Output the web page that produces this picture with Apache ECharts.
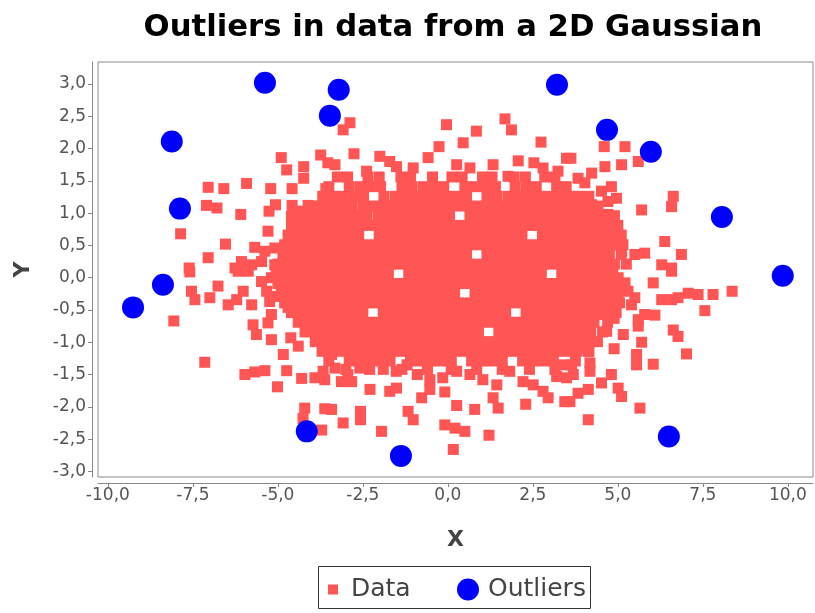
<!DOCTYPE html>
<html><head><meta charset="utf-8">
<script src="https://cdn.jsdelivr.net/npm/echarts@6/dist/echarts.min.js"></script>
<style>html,body{margin:0;padding:0;background:#fff}#c{width:815px;height:613px}</style>
</head><body><div id="c"></div>
<script>
const chartTitle = 'Outliers in data from a 2D Gaussian';
const xTicks = [-10, -7.5, -5, -2.5, 0, 2.5, 5, 7.5, 10];
const yTicks = [-3, -2.5, -2, -1.5, -1, -0.5, 0, 0.5, 1, 1.5, 2, 2.5, 3];

const outliers = [
  [-5.38, 3.02], [-3.21, 2.91], [-3.47, 2.51], [3.21, 2.99], [-8.12, 2.11],
  [4.68, 2.29], [5.97, 1.95], [-7.88, 1.07], [8.06, 0.94], [-8.38, -0.11],
  [9.85, 0.03], [-9.26, -0.46], [-4.15, -2.38], [-1.38, -2.76], [6.5, -2.46]
];

const dataTop = [
  [-2.88,2.40],[-3.08,2.29],[-0.04,2.37],[1.68,2.46],[1.87,2.29],[0.84,2.27],[0.45,2.09],[-0.26,2.03],
  [2.74,2.10],[-0.58,1.86],[-2.76,1.92],[2.07,1.81],[2.53,1.78],[2.80,1.70],[3.24,1.65],[3.49,1.85],
  [-3.32,1.75],[-1.02,1.70],[1.77,1.57],[-2.0,1.88],[-1.71,1.80],[-1.51,1.72],[-2.39,1.65],[0.26,1.75],
  [0.65,1.70],[1.33,1.75]
];
const dataLeftTop = [
  [-4.90,1.86],[-4.74,1.67],[-4.24,1.72],[-4.24,1.54],[-3.74,1.90],[-3.53,1.78],[-7.05,1.40],[-6.59,1.38],
  [-5.92,1.46],[-5.21,1.38],[-4.58,1.38],[-3.59,1.38],[-7.10,1.12],[-6.79,1.08],[-6.09,0.98],[-5.26,1.03],
  [-5.07,1.13],[-4.58,1.12],[-4.40,1.03],[-4.11,1.12],[-3.81,1.08],[-3.57,1.12],[-7.86,0.68],[-6.54,0.52],
  [-7.05,0.31],[-5.29,0.72],[-5.68,0.47],[-5.38,0.41],[-5.09,0.46],[-4.5,0.72],[-4.01,0.82],[-3.62,0.9],
  [-4.3,0.56],[-3.91,0.61],[-3.52,0.67],[-4.40,0.36],[-4.01,0.36],[-3.52,0.41],[-6.07,0.25],[-5.77,0.20],
  [-6.26,0.15],[-7.61,0.15],[-5.48,0.25],[-5.09,0.2],[-4.7,0.15],[-4.6,0.95],[-4.3,0.9],[-4.0,0.98],
  [-3.7,0.75],[-4.2,0.45],[-3.8,0.5],[-3.6,0.25],[-4.6,0.55],[-4.8,0.3]
];
const dataRightTop = [
  [3.62,1.85],[4.60,2.03],[5.21,2.03],[4.62,1.72],[5.11,1.75],[5.60,1.80],[3.83,1.54],[4.23,1.62],
  [4.03,1.47],[4.81,1.41],[4.52,1.34],[4.96,1.23],[4.71,1.18],[4.03,1.23],[4.23,1.13],[5.70,1.05],
  [6.63,1.26],[6.58,1.10],[3.64,1.08],[3.54,0.87],[4.03,0.87],[4.42,1.03],[4.71,0.98],[4.67,0.82],
  [6.38,0.56],[6.87,0.36],[5.5,0.36],[5.79,0.38],[4.91,0.51],[5.11,0.41],[4.62,0.61],[4.62,0.36],
  [4.32,0.46],[4.03,0.56],[3.64,0.61],[3.83,0.36],[4.23,0.25],[4.81,0.20],[6.29,0.2],[6.58,0.15]
];
const dataRightBottom = [
  [6.58,0.10],[6.04,-0.08],[7.07,-0.24],[7.36,-0.26],[7.80,-0.26],[8.36,-0.21],[6.29,-0.34],[6.58,-0.34],
  [6.77,-0.31],[7.56,-0.51],[6.09,-0.58],[5.79,-0.57],[6.63,-0.81],[6.77,-0.91],[7.02,-1.18],[6.04,-1.34],
  [5.55,-1.19],[5.55,-1.35],[5.70,-1.00],[5.16,-0.88],[4.89,-1.10],[4.67,-0.83],[4.89,-0.63],[5.60,-0.75],
  [5.6,-0.65],[5.40,-0.42],[5.5,-0.31],[5.30,-0.21],[5.21,-0.08],[4.81,-1.50],[4.52,-1.63],[5.01,-1.71],
  [5.11,-1.84],[5.65,-2.02],[4.13,-2.20],[3.83,-1.79],[3.59,-1.92],[4.13,-1.73],[4.18,-1.45],[3.69,-1.5],
  [4.18,-1.32],[3.64,-1.35],[3.83,-1.09],[4.13,-1.14],[4.03,-0.88],[3.64,-0.88],[4.42,-0.57],[4.03,-0.57],
  [3.74,-0.68],[4.71,-0.42],[4.32,-0.37],[3.93,-0.37],[3.54,-0.31],[4.71,-0.11],[4.42,-0.16],[4.03,-0.11],
  [3.64,0],[5.01,0],[4.71,0.1],[4.32,0.1],[3.93,0.1]
];
const dataBottom = [
  [-3.13,-1.61],[-2.83,-1.61],[-3.42,-2.04],[-2.57,-2.07],[-2.57,-2.20],[-3.08,-2.25],[-1.95,-2.38],[-2.29,-1.73],
  [-1.71,-1.76],[-1.51,-1.71],[-1.17,-2.07],[-1.02,-2.20],[-0.77,-1.86],[-0.53,-1.73],[-0.09,-1.77],[0.26,-1.98],
  [-0.09,-2.28],[0.21,-2.33],[0.5,-2.38],[0.16,-2.66],[0.79,-2.04],[1.21,-2.44],[1.33,-1.86],[1.48,-2.02],
  [1.82,-1.45],[2.29,-1.96],[2.21,-1.61],[2.51,-1.66],[2.80,-1.76],[2.95,-1.86],[3.20,-1.53],[3.44,-1.92],
  [3.39,-1.35],[3.49,-1.55],[-1.9,-1.42],[-1.52,-1.45],[-1.2,-1.35],[-0.9,-1.5],[-0.53,-1.58],[-0.15,-1.55],
  [0.26,-1.45],[0.65,-1.5],[1.03,-1.58],[1.44,-1.66],[-3.32,-1.4],[-2.94,-1.5],[-2.59,-1.4]
];
const dataLeftBottom = [
  [-7.59,0.09],[-7.54,-0.21],[-7.44,-0.34],[-7.0,-0.31],[-6.76,-0.13],[-8.06,-0.67],[-6.46,-0.42],[-6.21,-0.34],
  [-6.02,-0.21],[-5.77,-0.42],[-5.73,-0.73],[-5.63,-0.88],[-5.33,-0.21],[-5.24,-0.37],[-5.04,-0.29],[-5.19,-0.57],
  [-5.29,-0.70],[-5.19,-0.96],[-4.62,-0.93],[-4.40,-1.06],[-4.84,-1.19],[-7.15,-1.31],[-5.97,-1.50],[-5.68,-1.46],
  [-5.38,-1.44],[-4.74,-1.44],[-5.01,-1.69],[-4.30,-1.56],[-3.91,-1.55],[-3.67,-1.45],[-3.62,-1.58],[-3.64,-1.01],
  [-3.42,-1.19],[-3.47,-0.88],[-4.21,-2.02],[-4.26,-2.18],[-3.62,-2.03],[-3.71,-2.36],[-6.17,0.1],[-5.87,0.1],
  [-4.74,0.07],[-4.3,0.1],[-4.01,0.15],[-4.89,-0.06],[-4.40,-0.11],[-4.5,-0.31],[-4.11,-0.26],[-4.01,-0.47],
  [-3.62,-0.47],[-3.52,-0.21],[-3.42,-0.62],[-3.52,-0.93],[-4.7,-0.46],[-5.48,-0.06],[-5.19,0]
];

// dense core of the cloud, read row by row (y of the row, then x positions)
const coreRowY = [1.56,1.41,1.26,1.11,0.96,0.81,0.66,0.51,0.36,0.21,0.06,-0.09,-0.24,-0.39,-0.54,-0.69,-0.84,-0.99,-1.14,-1.29,-1.42];
const coreRowX = [
  [-3.25,-2.95,-2.35,-2.02,-1.38,-1.1,-0.45,0.12,0.42,1.02,1.3,1.95,2.28,2.85,3.15],
  [-3.5,-2.9,-2.58,-2.3,-1.98,-1.35,-1.05,-0.72,-0.42,-0.12,0.5,0.8,1.08,1.4,1.98,2.3,2.6,3.2,3.48],
  [-3.68,-3.4,-3.1,-2.78,-2.48,-1.88,-1.55,-1.25,-0.95,-0.65,-0.35,-0.05,0.25,0.55,1.15,1.45,1.78,2.05,2.35,2.65,2.95,3.25,3.55,3.85,4.15],
  [-4.0,-3.72,-3.42,-3.12,-2.82,-2.5,-2.2,-1.9,-1.6,-1.3,-1.0,-0.7,-0.4,-0.1,0.2,0.5,0.8,1.1,1.4,1.7,2.0,2.3,2.6,2.9,3.2,3.5,3.8,4.1,4.4],
  [-4.5,-4.18,-3.88,-3.58,-3.28,-2.98,-2.68,-2.38,-2.05,-1.75,-1.45,-1.15,-0.85,-0.55,-0.25,0.05,0.65,0.95,1.25,1.55,1.85,2.15,2.45,2.75,3.05,3.35,3.65,3.95,4.25,4.55,4.9],
  [-4.6,-4.3,-4.0,-3.7,-3.4,-3.1,-2.8,-2.5,-2.2,-1.9,-1.6,-1.3,-1.0,-0.7,-0.4,-0.1,0.2,0.5,0.8,1.1,1.4,1.7,2.0,2.3,2.6,2.9,3.2,3.5,3.8,4.1,4.4,4.7,5.0],
  [-4.7,-4.42,-4.12,-3.82,-3.52,-3.22,-2.92,-2.62,-2.02,-1.72,-1.42,-1.12,-0.82,-0.52,-0.22,0.08,0.38,0.68,0.98,1.28,1.58,1.88,2.18,2.78,3.08,3.38,3.68,3.98,4.28,4.58,4.88,5.1],
  [-4.8,-4.5,-4.2,-3.9,-3.6,-3.3,-3.0,-2.7,-2.4,-2.1,-1.8,-1.5,-1.2,-0.9,-0.6,-0.3,0.0,0.3,0.6,0.9,1.2,1.5,1.8,2.1,2.4,2.7,3.0,3.3,3.6,3.9,4.2,4.5,4.8,5.15],
  [-4.85,-4.55,-4.25,-3.95,-3.65,-3.35,-3.05,-2.75,-2.45,-2.15,-1.85,-1.55,-1.25,-0.95,-0.65,-0.35,-0.05,0.25,0.55,1.15,1.45,1.75,2.05,2.35,2.65,2.95,3.25,3.55,3.85,4.15,4.45,4.75,5.1],
  [-5.0,-4.7,-4.4,-4.1,-3.8,-3.5,-3.2,-2.9,-2.6,-2.3,-2.0,-1.7,-1.4,-1.1,-0.8,-0.5,-0.2,0.1,0.4,0.7,1.0,1.3,1.6,1.9,2.2,2.5,2.8,3.1,3.4,3.7,4.0,4.3,4.6,4.9,5.25],
  [-5.05,-4.75,-4.45,-4.15,-3.85,-3.55,-3.25,-2.95,-2.65,-2.35,-2.05,-1.75,-1.15,-0.85,-0.55,-0.25,0.05,0.35,0.65,0.95,1.25,1.55,1.85,2.15,2.45,2.75,3.35,3.65,3.95,4.25,4.55,4.85],
  [-5.0,-4.7,-4.4,-4.1,-3.8,-3.5,-3.2,-2.9,-2.6,-2.3,-2.0,-1.7,-1.4,-1.1,-0.8,-0.5,-0.2,0.1,0.4,0.7,1.0,1.3,1.6,1.9,2.2,2.5,2.8,3.1,3.4,3.7,4.0,4.3,4.6,4.95],
  [-4.9,-4.6,-4.3,-4.0,-3.7,-3.4,-3.1,-2.8,-2.5,-2.2,-1.9,-1.6,-1.3,-1.0,-0.7,-0.4,-0.1,0.2,0.8,1.1,1.4,1.7,2.0,2.3,2.6,2.9,3.2,3.5,3.8,4.1,4.4,4.7,5.0],
  [-4.8,-4.5,-4.2,-3.9,-3.6,-3.3,-3.0,-2.7,-2.4,-2.1,-1.8,-1.5,-1.2,-0.9,-0.6,-0.3,0.0,0.3,0.6,0.9,1.2,1.5,1.8,2.1,2.4,2.7,3.0,3.3,3.6,3.9,4.2,4.5,4.8,5.05],
  [-4.6,-4.3,-4.0,-3.7,-3.4,-3.1,-2.8,-2.5,-1.9,-1.6,-1.3,-1.0,-0.7,-0.4,-0.1,0.2,0.5,0.8,1.1,1.4,1.7,2.3,2.6,2.9,3.2,3.5,3.8,4.1,4.4,4.7,4.95],
  [-4.4,-4.1,-3.8,-3.5,-3.2,-2.9,-2.6,-2.3,-2.0,-1.7,-1.4,-1.1,-0.8,-0.5,-0.2,0.1,0.4,0.7,1.0,1.3,1.6,1.9,2.2,2.5,2.8,3.1,3.4,3.7,4.0,4.3,4.7],
  [-4.2,-3.9,-3.6,-3.3,-3.0,-2.7,-2.4,-2.1,-1.8,-1.5,-1.2,-0.9,-0.6,-0.3,0.0,0.3,0.6,0.9,1.5,1.8,2.1,2.4,2.7,3.0,3.3,3.6,3.9,4.2,4.55],
  [-3.9,-3.6,-3.3,-3.0,-2.7,-2.4,-2.1,-1.8,-1.5,-1.2,-0.9,-0.6,-0.3,0.0,0.3,0.6,0.9,1.2,1.5,1.8,2.1,2.4,2.7,3.0,3.3,3.6,3.9,4.2,4.4],
  [-3.7,-3.4,-3.1,-2.8,-2.5,-2.2,-1.9,-1.6,-1.3,-1.0,-0.7,-0.4,-0.1,0.2,0.5,0.8,1.1,1.4,1.7,2.0,2.3,2.6,2.9,3.2,3.5,3.8,4.15],
  [-3.5,-2.9,-2.6,-2.3,-2.0,-1.7,-1.1,-0.8,-0.5,-0.2,0.1,0.7,1.0,1.3,1.6,2.2,2.5,2.8,3.1,3.75],
  [-3.0,-2.3,-1.35,-0.6,0.1,0.85,1.6,2.4,3.15]
];

const corePoints = [];
coreRowY.forEach((y, i) => coreRowX[i].forEach(x => corePoints.push([x, y])));
const dataPoints = corePoints.concat(dataTop, dataLeftTop, dataRightTop, dataRightBottom, dataBottom, dataLeftBottom);

const fmt = v => (Math.round(v * 10) / 10).toFixed(1).replace('.', ',');
const tickFont = { fontFamily: 'DejaVu Sans', fontSize: 17, color: '#555' };
const nameFont = { fontFamily: 'DejaVu Sans', fontSize: 22, fontWeight: 'bold', color: '#444' };
const legendFont = { fontFamily: 'DejaVu Sans', fontSize: 25, color: '#444' };

const chart = echarts.init(document.getElementById('c'), null, { renderer: 'canvas' });
chart.setOption({
  animation: false,
  backgroundColor: '#fff',
  title: {
    text: chartTitle, left: 448, top: 8, textAlign: 'center',
    textStyle: { fontFamily: 'DejaVu Sans', fontWeight: 'bold', fontSize: 30.7, color: '#000' }
  },
  grid: { left: 98, top: 62, right: 2, bottom: 136, show: true, borderColor: '#8a8a8a', borderWidth: 1, backgroundColor: '#fff' },
  xAxis: {
    type: 'value', min: -10.29, max: 10.74, offset: 6,
    name: 'X', nameLocation: 'middle', nameGap: 46, nameTextStyle: nameFont,
    axisLine: { show: true, onZero: false, lineStyle: { color: '#888' } },
    axisTick: { show: true, length: 4, customValues: xTicks, lineStyle: { color: '#888' } },
    axisLabel: Object.assign({ customValues: xTicks, formatter: fmt, margin: 4 }, tickFont),
    splitLine: { show: false }
  },
  yAxis: {
    type: 'value', min: -3.087, max: 3.341, offset: 6,
    name: 'Y', nameLocation: 'middle', nameGap: 58, nameTextStyle: nameFont,
    axisLine: { show: true, onZero: false, lineStyle: { color: '#888' } },
    axisTick: { show: true, length: 4, customValues: yTicks, lineStyle: { color: '#888' } },
    axisLabel: Object.assign({ customValues: yTicks, formatter: fmt, margin: 6 }, tickFont),
    splitLine: { show: false }
  },
  legend: [
    { data: ['Data'], left: 328, top: 577, padding: 0, itemWidth: 10, itemHeight: 10, icon: 'rect',
      textStyle: Object.assign({ padding: [0, 0, 0, 8] }, legendFont) },
    { data: ['Outliers'], left: 457, top: 577, padding: 0, itemWidth: 22, itemHeight: 22, icon: 'circle',
      textStyle: Object.assign({ padding: [0, 0, 0, 4] }, legendFont) }
  ],
  graphic: [
    { type: 'rect', z: 100, silent: true, shape: { x: 318.5, y: 566.5, width: 272, height: 42 },
      style: { fill: null, stroke: '#333', lineWidth: 1 } }
  ],
  series: [
    { name: 'Data', type: 'scatter', symbol: 'rect', symbolSize: 11, clip: false,
      itemStyle: { color: '#FF5555', opacity: 1 }, data: dataPoints, z: 2 },
    { name: 'Outliers', type: 'scatter', symbol: 'circle', symbolSize: 22, clip: false,
      itemStyle: { color: '#0000FF', opacity: 1 }, data: outliers, z: 3 }
  ]
});
</script></body></html>
